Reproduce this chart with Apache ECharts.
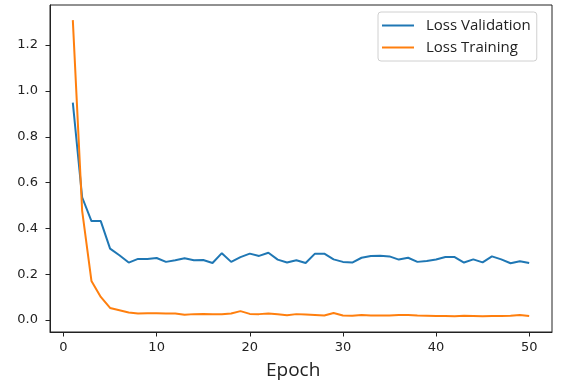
<!DOCTYPE html>
<html>
<head>
<meta charset="utf-8">
<script src="https://cdn.jsdelivr.net/npm/echarts@6/dist/echarts.min.js"></script>
<style>html,body{margin:0;padding:0;background:#fff}#c{width:562px;height:383px}</style>
</head>
<body>
<div id="c"></div>
<script>
const epochs = [1,2,3,4,5,6,7,8,9,10,11,12,13,14,15,16,17,18,19,20,21,22,23,24,25,26,27,28,29,30,31,32,33,34,35,36,37,38,39,40,41,42,43,44,45,46,47,48,49,50];
const lossValidation = [0.949,0.536,0.432,0.432,0.312,0.283,0.251,0.267,0.267,0.271,0.254,0.261,0.270,0.261,0.262,0.249,0.292,0.254,0.275,0.290,0.280,0.294,0.264,0.251,0.261,0.249,0.290,0.290,0.265,0.254,0.251,0.272,0.280,0.281,0.278,0.264,0.272,0.254,0.258,0.264,0.275,0.275,0.251,0.265,0.252,0.278,0.265,0.248,0.257,0.249];
const lossTraining = [1.309,0.478,0.171,0.101,0.053,0.043,0.033,0.029,0.030,0.030,0.029,0.029,0.023,0.026,0.027,0.025,0.025,0.029,0.039,0.027,0.026,0.029,0.025,0.021,0.026,0.024,0.022,0.020,0.031,0.020,0.019,0.022,0.020,0.020,0.020,0.022,0.022,0.020,0.019,0.018,0.018,0.017,0.019,0.018,0.017,0.018,0.018,0.019,0.022,0.018];
const xTicks = [0,10,20,30,40,50];
const yTicks = [0,0.2,0.4,0.6,0.8,1.0,1.2];
const xLabel = 'Epoch';
const seriesNames = ['Loss Validation','Loss Training'];

const chart = echarts.init(document.getElementById('c'), null, {renderer:'canvas'});
const tickColor = '#222';
chart.setOption({
  animation:false,
  backgroundColor:'#fff',
  grid:{left:50,right:10,top:5,bottom:51,show:true,borderColor:'#222',borderWidth:1,backgroundColor:'transparent'},
  legend:{
    orient:'vertical', left:378, top:12,
    data:seriesNames, icon:'rect',
    backgroundColor:'#fff', borderColor:'#d0d0d0', borderWidth:1, borderRadius:3,
    padding:[5,6,5,4], itemGap:5, itemWidth:32, itemHeight:2,
    textStyle:{fontFamily:'Open Sans', fontSize:15, color:'#222', padding:[0,0,0,7], lineHeight:17}
  },
  xAxis:{
    type:'value', min:-1.45, max:52.45,
    axisLine:{show:true,onZero:false,lineStyle:{color:tickColor,width:1}},
    axisTick:{show:true,length:4.5,lineStyle:{color:tickColor},customValues:xTicks},
    axisLabel:{customValues:xTicks,margin:9,color:'#222',fontFamily:'DejaVu Sans',fontSize:13,formatter:v=>String(v)},
    splitLine:{show:false}
  },
  yAxis:{
    type:'value', min:-0.052, max:1.375,
    axisLine:{show:true,onZero:false,lineStyle:{color:tickColor,width:1}},
    axisTick:{show:true,length:4.5,lineStyle:{color:tickColor},customValues:yTicks},
    axisLabel:{customValues:yTicks,margin:12,color:'#222',fontFamily:'DejaVu Sans',fontSize:13,formatter:v=>v.toFixed(1)},
    splitLine:{show:false}
  },
  graphic:[{type:'text',left:294-28,top:361,style:{text:xLabel,fontFamily:'Open Sans',fontSize:19,fill:'#222'}}],
  series:[
    {name:seriesNames[0],type:'line',symbol:'none',data:epochs.map((e,i)=>[e,lossValidation[i]]),lineStyle:{color:'#1f77b4',width:2},itemStyle:{color:'#1f77b4'}},
    {name:seriesNames[1],type:'line',symbol:'none',data:epochs.map((e,i)=>[e,lossTraining[i]]),lineStyle:{color:'#ff7f0e',width:2},itemStyle:{color:'#ff7f0e'}}
  ]
});
</script>
</body>
</html>
